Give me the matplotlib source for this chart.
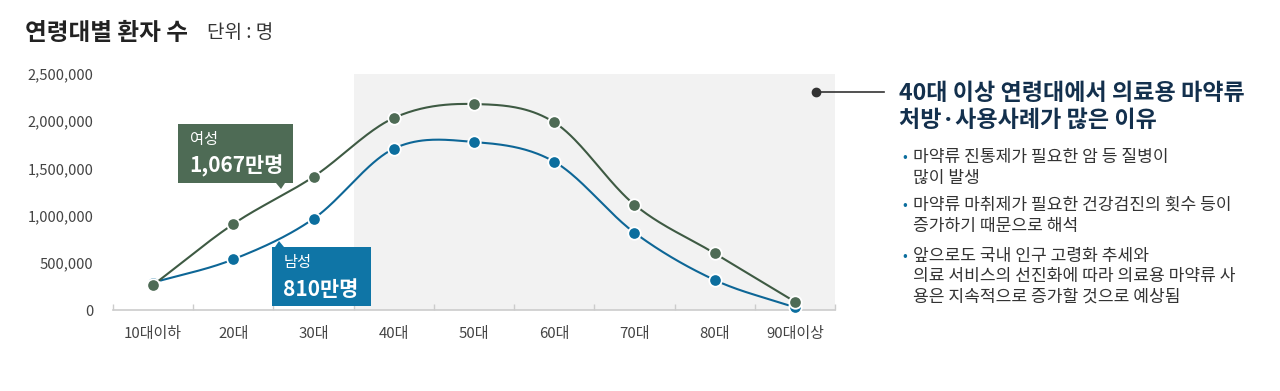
import numpy as np
import matplotlib
matplotlib.use("Agg")
import matplotlib.pyplot as plt
from matplotlib.patches import Rectangle, Polygon

plt.rcParams['font.family'] = ['Noto Sans CJK KR', 'DejaVu Sans']

categories = ['10대이하', '20대', '30대', '40대', '50대', '60대', '70대', '80대', '90대이상']
female = [265000, 911000, 1412000, 2034000, 2182000, 1988000, 1116000, 600000, 88000]
male = [290000, 537000, 967000, 1709000, 1780000, 1571000, 819000, 318000, 29000]
yticks = [0, 500000, 1000000, 1500000, 2000000, 2500000]
shade_from = '40대'

GREEN_LINE = '#3e5a43'
GREEN = '#4e6b55'
BLUE_LINE = '#0d6696'
BLUE = '#0c6e9e'
BLUE_BOX = '#0f75a6'
GRAY_TXT = '#444444'

W, H = 1280, 391
fig = plt.figure(figsize=(W / 100, H / 100), dpi=100)


def fx(x):
    return x / W


def fy(y):
    return 1 - y / H


ax = fig.add_axes([fx(113), fy(310), fx(835) - fx(113), fy(74) - fy(310)])
ax.set_xlim(-0.5, len(categories) - 0.5)
ax.set_ylim(0, 2500000)

# shaded region 40대 ~ 90대이상
ax.axvspan(categories.index(shade_from) - 0.5, len(categories) - 0.5, color='#f2f2f2', zorder=0, lw=0)


def catmull(xs, ys, n=40):
    xs = np.asarray(xs, float)
    ys = np.asarray(ys, float)
    px = np.concatenate([[2 * xs[0] - xs[1]], xs, [2 * xs[-1] - xs[-2]]])
    py = np.concatenate([[2 * ys[0] - ys[1]], ys, [2 * ys[-1] - ys[-2]]])
    ox, oy = [], []
    t = np.linspace(0, 1, n)
    for i in range(1, len(px) - 2):
        p0, p1, p2, p3 = py[i - 1], py[i], py[i + 1], py[i + 2]
        m1 = (p2 - p0) / 2
        m2 = (p3 - p1) / 2
        h00 = 2 * t**3 - 3 * t**2 + 1
        h10 = t**3 - 2 * t**2 + t
        h01 = -2 * t**3 + 3 * t**2
        h11 = t**3 - t**2
        oy.append(h00 * p1 + h10 * m1 + h01 * p2 + h11 * m2)
        ox.append(px[i] + t * (px[i + 1] - px[i]))
    return np.concatenate(ox), np.concatenate(oy)


xs = np.arange(len(categories))
for vals, lc, mc, z in [(male, BLUE_LINE, BLUE, 3), (female, GREEN_LINE, GREEN, 4)]:
    cx, cy = catmull(xs, vals)
    ax.plot(cx, cy, color=lc, lw=1.5, zorder=z, clip_on=False)
    ax.plot(xs, vals, 'o', color=mc, ms=9, mec='white', mew=1.3, zorder=z + 0.5, clip_on=False)

for s in ['top', 'right', 'left']:
    ax.spines[s].set_visible(False)
ax.spines['bottom'].set_color('#cccccc')
ax.spines['bottom'].set_linewidth(1.2)

ax.set_xticks(np.arange(-0.5, len(categories), 1.0))
ax.set_xticklabels([])
ax.set_xticks(xs, minor=True)
ax.set_xticklabels(categories, minor=True)
ax.tick_params(axis='x', which='major', direction='in', length=4, color='#cccccc', width=1)
ax.tick_params(axis='x', which='minor', length=0, pad=12, labelsize=10.8, labelcolor=GRAY_TXT)
ax.set_yticks(yticks)
ax.set_yticklabels([f'{v:,}' for v in yticks])
ax.tick_params(axis='y', length=0, pad=14, labelsize=10.6, labelcolor=GRAY_TXT)

# Title
fig.text(fx(25), fy(33), '연령대별 환자 수', fontsize=17, fontweight='bold', color='#222222', va='center', ha='left')
fig.text(fx(207), fy(33), '단위 : 명', fontsize=13.7, color='#333333', va='center', ha='left')

# female callout box
fig.patches.append(Rectangle((fx(178), fy(183)), fx(293) - fx(178), fy(124) - fy(183),
                             transform=fig.transFigure, facecolor=GREEN, edgecolor='none', zorder=5))
fig.patches.append(Polygon([(fx(276), fy(183)), (fx(285), fy(183)), (fx(281), fy(189))],
                           closed=True, transform=fig.transFigure, facecolor=GREEN, edgecolor='none', zorder=5))
fig.text(fx(190), fy(140), '여성', fontsize=11, color='white', va='center', ha='left', zorder=6)
fig.text(fx(189), fy(166), '1,067만명', fontsize=15, fontweight='bold', color='white', va='center', ha='left', zorder=6)

# male callout box
fig.patches.append(Rectangle((fx(272), fy(306)), fx(371) - fx(272), fy(247) - fy(306),
                             transform=fig.transFigure, facecolor=BLUE_BOX, edgecolor='none', zorder=5))
fig.patches.append(Polygon([(fx(275), fy(247)), (fx(284), fy(247)), (fx(279), fy(241))],
                           closed=True, transform=fig.transFigure, facecolor=BLUE_BOX, edgecolor='none', zorder=5))
fig.text(fx(284), fy(263), '남성', fontsize=11, color='white', va='center', ha='left', zorder=6)
fig.text(fx(283), fy(289), '810만명', fontsize=15, fontweight='bold', color='white', va='center', ha='left', zorder=6)

# right annotation
fig.lines.append(plt.Line2D([fx(816), fx(884)], [fy(92), fy(92)], transform=fig.transFigure,
                            color='#333333', lw=1.2))
fig.lines.append(plt.Line2D([fx(816)], [fy(92)], transform=fig.transFigure, marker='o',
                            ms=6, color='#333333', lw=0))
fig.text(fx(899), fy(93), '40대 이상 연령대에서 의료용 마약류', fontsize=16.6, fontweight='bold',
         color='#13304d', va='center', ha='left')
fig.text(fx(899), fy(120), '처방·사용사례가 많은 이유', fontsize=16.6, fontweight='bold',
         color='#13304d', va='center', ha='left')

bullets = [
    ['마약류 진통제가 필요한 암 등 질병이', '많이 발생'],
    ['마약류 마취제가 필요한 건강검진의 횟수 등이', '증가하기 때문으로 해석'],
    ['앞으로도 국내 인구 고령화 추세와', '의료 서비스의 선진화에 따라 의료용 마약류 사',
     '용은 지속적으로 증가할 것으로 예상됨'],
]
starts = [157, 205, 256]
for lines, y0 in zip(bullets, starts):
    fig.text(fx(905), fy(y0), '•', fontsize=10, color=BLUE, va='center', ha='center')
    for i, ln in enumerate(lines):
        fig.text(fx(913), fy(y0 + i * 20.5), ln, fontsize=12.3, color='#333333', va='center', ha='left')

fig.savefig('out.png', dpi=100, facecolor='white')
